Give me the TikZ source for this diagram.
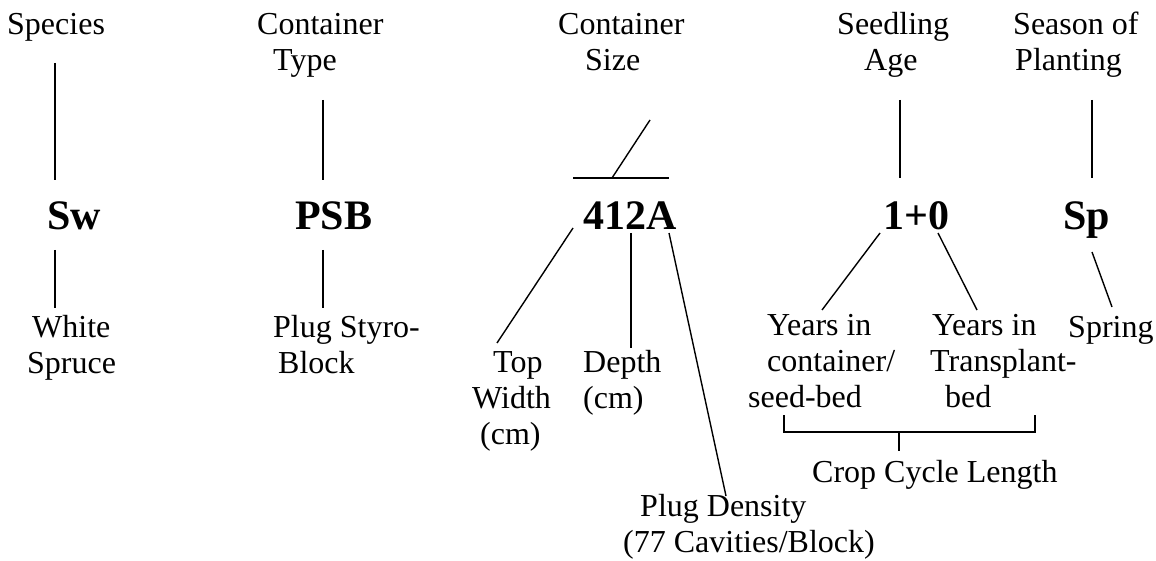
\documentclass[tikz,border=0pt]{standalone}
\usepackage{fontspec}
\setmainfont{Liberation Serif}
\newcommand{\mlines}[1]{\begin{tabular}[t]{@{}l@{}}#1\end{tabular}}
\tikzset{
  lbl/.style={font=\fontsize{32}{36}\selectfont, inner sep=0pt, anchor=base west},
  code/.style={font=\fontsize{42}{46}\selectfont\bfseries, inner sep=0pt, anchor=base west},
  conn/.style={line width=1.4pt, line cap=butt}
}
\begin{document}
\begin{tikzpicture}[x=1pt,y=-1pt]
\useasboundingbox (0,0) rectangle (1156,561);
% top row labels
\node[lbl] (species) at (7,35) {Species};
\node[lbl] (ctype) at (257,35) {\mlines{Container\\\hspace{16pt}Type}};
\node[lbl] (csize) at (558,35) {\mlines{Container\\\hspace{27pt}Size}};
\node[lbl] (sage) at (837,35) {\mlines{Seedling\\\hspace{27pt}Age}};
\node[lbl] (season) at (1013,35) {\mlines{Season of\\\hspace{2pt}Planting}};
% codes
\node[code] (sw) at (47,230) {Sw};
\node[code] (psb) at (295,230) {PSB};
\node[code] (size) at (583,230) {412A};
\node[code] (age) at (883,230) {1+0};
\node[code] (sp) at (1063,230) {Sp};
% lower labels
\node[lbl] (white) at (27,337) {\mlines{\hspace{5pt}White\\Spruce}};
\node[lbl] (plug) at (273,337) {\mlines{Plug Styro-\\\hspace{5pt}Block}};
\node[lbl] (topw) at (472,372) {\mlines{\hspace{21pt}Top\\Width\\\hspace{8pt}(cm)}};
\node[lbl] (depth) at (583,372) {\mlines{Depth\\(cm)}};
\node[lbl] (dens) at (623,516) {\mlines{\hspace{17pt}Plug Density\\(77 Cavities/Block)}};
\node[lbl] (yc) at (748,335) {\mlines{\hspace{19pt}Years in\\\hspace{19pt}container/\\seed-bed}};
\node[lbl] (yt) at (930,335) {\mlines{\hspace{2pt}Years in\\Transplant-\\\hspace{15pt}bed}};
\node[lbl] (spring) at (1068,337) {Spring};
\node[lbl] (crop) at (812,482) {Crop Cycle Length};
% connector end points
\coordinate (species-b) at (55,63);  \coordinate (sw-t) at (55,180);
\coordinate (ctype-b) at (323,100);  \coordinate (psb-t) at (323,180);
\coordinate (csize-b) at (650,120);  \coordinate (bar-m) at (612,178);
\coordinate (bar-l) at (573,178);    \coordinate (bar-r) at (669,178);
\coordinate (sage-b) at (900,100);   \coordinate (age-t) at (900,178);
\coordinate (season-b) at (1092,100);\coordinate (sp-t) at (1092,178);
\coordinate (sw-b) at (55,250);      \coordinate (white-t) at (55,308);
\coordinate (psb-b) at (323,250);    \coordinate (plug-t) at (323,308);
\coordinate (size-bl) at (573,228);  \coordinate (topw-t) at (497,343);
\coordinate (size-bm) at (631,233);  \coordinate (depth-t) at (631,348);
\coordinate (size-br) at (669,233);  \coordinate (dens-t) at (726,496);
\coordinate (age-bl) at (880,233);   \coordinate (yc-t) at (822,310);
\coordinate (age-br) at (938,233);   \coordinate (yt-t) at (977,310);
\coordinate (sp-b) at (1092,252);    \coordinate (spring-t) at (1112,307);
\coordinate (br-l) at (784,415);     \coordinate (br-r) at (1035,415);
\coordinate (br-m) at (899,432);     \coordinate (crop-t) at (899,451);
% connectors
\draw[conn] (species-b) -- (sw-t);
\draw[conn] (ctype-b) -- (psb-t);
\draw[conn] (csize-b) -- (bar-m);
\draw[conn] (bar-l) -- (bar-r);
\draw[conn] (sage-b) -- (age-t);
\draw[conn] (season-b) -- (sp-t);
\draw[conn] (sw-b) -- (white-t);
\draw[conn] (psb-b) -- (plug-t);
\draw[conn] (size-bl) -- (topw-t);
\draw[conn] (size-bm) -- (depth-t);
\draw[conn] (size-br) -- (dens-t);
\draw[conn] (age-bl) -- (yc-t);
\draw[conn] (age-br) -- (yt-t);
\draw[conn] (sp-b) -- (spring-t);
\draw[conn] (br-l) |- (br-m) -| (br-r);
\draw[conn] (br-m) -- (crop-t);
\end{tikzpicture}
\end{document}
